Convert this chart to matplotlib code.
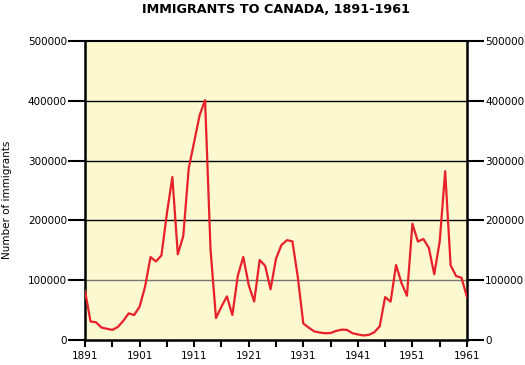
import matplotlib.pyplot as plt

years = list(range(1891, 1962))
immigrants = [
    82165, 30996, 29633, 20829, 18790, 16835, 21716, 31900, 44543, 41681,
    55747, 89102, 138660, 131252, 141465, 211653, 272409, 143326, 173694, 286839,
    331288, 375756, 400870, 150484, 36665, 55914, 72910, 41845, 107698, 138824,
    91728, 64224, 133729, 124164, 84907, 135982, 158886, 166783, 164993, 104806,
    27530, 20591, 14382, 12476, 11277, 11643, 15101, 17244, 16994, 11324,
    9329, 7576, 8504, 12801, 22722, 71719, 64127, 125414, 95217, 73912,
    194391, 164498, 168868, 154227, 109946, 164857, 282164, 124851, 106928, 104111,
    71689,
]
y_ticks = [0, 100000, 200000, 300000, 400000, 500000]
x_labels = list(range(1891, 1962, 10))

fig = plt.figure(figsize=(5.25, 3.65), dpi=100)
ax = fig.add_axes([0.162, 0.0685, 0.7275, 0.8195])
ax.set_facecolor("#fcf8cf")

for v in y_ticks[1:-1]:
    ax.axhline(v, color="#777777" if v == 100000 else "black", lw=1.0, zorder=1)

ax.plot(years, immigrants, color="#e8202a", lw=1.6, zorder=3)

ax.set_xlim(1891, 1961)
ax.set_ylim(0, 500000)
ax.set_yticks(y_ticks)
ax.set_yticklabels([str(v) for v in y_ticks])
ax.set_xticks(range(1891, 1962, 5))
ax.set_xticklabels([str(y) if y in x_labels else "" for y in range(1891, 1962, 5)])

ax.tick_params(axis="y", which="both", direction="out", length=12, width=1.5,
               labelsize=7.5, left=True, right=True, labelleft=True,
               labelright=True, pad=1)
ax.tick_params(axis="x", direction="out", length=5, width=1.5, labelsize=7.5, pad=3)

for side in ["left", "right", "bottom"]:
    ax.spines[side].set_linewidth(1.8)
ax.spines["top"].set_linewidth(1.5)

fig.text(0.013, 0.452, "Number of immigrants", rotation=90, fontsize=7.5,
         ha="center", va="center")
fig.text(0.526, 0.973, "IMMIGRANTS TO CANADA, 1891-1961", fontsize=9.2,
         fontweight="bold", ha="center", va="center")

fig.savefig("out.png", dpi=100)
